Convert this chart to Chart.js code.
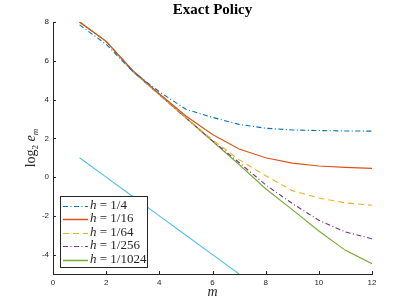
<!DOCTYPE html>
<html>
<head>
<meta charset="utf-8">
<script src="https://cdn.jsdelivr.net/npm/chart.js@4"></script>
<style>
  html, body { margin: 0; padding: 0; background: #fff; }
  #wrap { width: 411px; height: 308px; }
</style>
</head>
<body>
<div id="wrap"><canvas id="policyChart"></canvas></div>
<script>
// values
let mValues = [1, 2, 3, 4, 5, 6, 7, 8, 9, 10, 11, 12]
let err4 = [7.85, 6.85, 5.45, 4.4, 3.5, 3.08, 2.72, 2.52, 2.43, 2.4, 2.38, 2.37]
let err16 = [8.0, 7.0, 5.5, 4.3, 3.15, 2.2, 1.45, 1.0, 0.72, 0.57, 0.5, 0.45]
let err64 = [8.0, 7.0, 5.45, 4.27, 3.08, 1.92, 0.9, 0.07, -0.7, -1.08, -1.33, -1.45]
let err256 = [8.0, 7.0, 5.45, 4.25, 3.05, 1.87, 0.75, -0.4, -1.36, -2.23, -2.83, -3.18]
let err1024 = [8.0, 7.0, 5.45, 4.25, 3.05, 1.85, 0.65, -0.6, -1.68, -2.78, -3.78, -4.47]
let refM = [1, 2, 3, 4, 5, 6, 7]
let refLine = [1, 0, -1, -2, -3, -4, -5]

let seriesNames = ['1/4', '1/16', '1/64', '1/256', '1/1024']
let xTicks = [0, 2, 4, 6, 8, 10, 12]
let yTicks = [-4, -2, 0, 2, 4, 6, 8]

function pts(xs, ys) {
  return xs.map((x, i) => ({ x: x, y: ys[i] }))
}

let dashDot = [5, 2.5, 1, 2.5]

let datasets = [
  { label: seriesNames[0], data: pts(mValues, err4), borderColor: '#0072BD', borderDash: dashDot },
  { label: seriesNames[1], data: pts(mValues, err16), borderColor: '#D95319', borderDash: [] },
  { label: seriesNames[2], data: pts(mValues, err64), borderColor: '#EDB120', borderDash: [6, 4] },
  { label: seriesNames[3], data: pts(mValues, err256), borderColor: '#7E2F8E', borderDash: dashDot },
  { label: seriesNames[4], data: pts(mValues, err1024), borderColor: '#77AC30', borderDash: [] },
  { label: 'ref', data: pts(refM, refLine), borderColor: '#4DBEEE', borderDash: [] }
]
datasets.forEach(d => {
  d.borderWidth = 1.1
  d.pointRadius = 0
  d.fill = false
  d.tension = 0
})

let serif = '"Liberation Serif", "DejaVu Serif", serif'

// inward ticks, axis labels, title and legend box
let decor = {
  id: 'decor',
  afterDraw(chart) {
    let ctx = chart.ctx
    let a = chart.chartArea
    let xs = chart.scales.x
    let ys = chart.scales.y
    ctx.save()
    ctx.strokeStyle = '#262626'
    ctx.lineWidth = 1
    ctx.beginPath()
    xTicks.forEach(t => {
      let px = Math.round(xs.getPixelForValue(t)) + 0.5
      ctx.moveTo(px, a.bottom)
      ctx.lineTo(px, a.bottom - 3)
    })
    yTicks.forEach(t => {
      let py = Math.round(ys.getPixelForValue(t)) + 0.5
      ctx.moveTo(a.left, py)
      ctx.lineTo(a.left + 3, py)
    })
    ctx.stroke()

    // title
    ctx.fillStyle = '#000'
    ctx.textAlign = 'center'
    ctx.textBaseline = 'middle'
    ctx.font = 'bold 15px ' + serif
    ctx.fillText('Exact Policy', (a.left + a.right) / 2, 10)

    // x label
    ctx.font = 'italic 14px ' + serif
    ctx.fillStyle = '#262626'
    ctx.fillText('m', (a.left + a.right) / 2, 292)

    // y label: log2 e_m
    ctx.save()
    ctx.translate(31, (a.top + a.bottom) / 2)
    ctx.rotate(-Math.PI / 2)
    ctx.textAlign = 'left'
    ctx.textBaseline = 'alphabetic'
    let parts = [
      { t: 'log', f: '14px ' + serif, dy: 0 },
      { t: '2', f: '9px ' + serif, dy: 3 },
      { t: ' ', f: '14px ' + serif, dy: 0 },
      { t: 'e', f: 'italic 14px ' + serif, dy: 0 },
      { t: 'm', f: 'italic 9px ' + serif, dy: 3 }
    ]
    let total = 0
    parts.forEach(p => { ctx.font = p.f; total += ctx.measureText(p.t).width })
    let cx = -total / 2
    parts.forEach(p => {
      ctx.font = p.f
      ctx.fillText(p.t, cx, 4 + p.dy)
      cx += ctx.measureText(p.t).width
    })
    ctx.restore()

    // legend
    let lx = 60, ly = 196, lw = 87, lh = 71
    ctx.fillStyle = '#fff'
    ctx.fillRect(lx, ly, lw, lh)
    ctx.strokeStyle = '#262626'
    ctx.lineWidth = 1
    ctx.strokeRect(lx + 0.5, ly + 0.5, lw, lh)
    for (let i = 0; i < seriesNames.length; i++) {
      let d = datasets[i]
      let ry = ly + 9.5 + i * 13.5
      ctx.strokeStyle = d.borderColor
      ctx.setLineDash(d.borderDash)
      ctx.lineWidth = i == 1 || i == 4 ? 1.5 : 1
      ctx.beginPath()
      ctx.moveTo(lx + 3, Math.round(ry) + 0.5)
      ctx.lineTo(lx + 28, Math.round(ry) + 0.5)
      ctx.stroke()
      ctx.setLineDash([])
      ctx.fillStyle = '#262626'
      ctx.textAlign = 'left'
      ctx.textBaseline = 'middle'
      ctx.font = 'italic 13px ' + serif
      ctx.fillText('h', lx + 30, ry)
      let w = ctx.measureText('h').width
      ctx.font = '13px ' + serif
      ctx.fillText(' = ' + seriesNames[i], lx + 30 + w, ry)
    }
    ctx.restore()
  }
}

let ctx = document.getElementById('policyChart').getContext('2d')

let policyChart = new Chart(ctx, {
  type: 'line',
  data: { datasets: datasets },
  options: {
    responsive: true,
    maintainAspectRatio: false,
    animation: false,
    layout: { padding: { left: 33, right: 39, top: 22, bottom: 18 } },
    plugins: {
      legend: { display: false },
      tooltip: { enabled: false }
    },
    scales: {
      x: {
        type: 'linear',
        min: 0,
        max: 12,
        afterBuildTicks: s => { s.ticks = xTicks.map(v => ({ value: v })) },
        afterFit: s => { s.height = 16 },
        grid: { display: false, drawTicks: false },
        border: { display: true, color: '#262626', width: 1 },
        ticks: {
          color: '#262626',
          padding: 4,
          font: { family: '"Liberation Sans", Arial, sans-serif', size: 8 }
        }
      },
      y: {
        type: 'linear',
        min: -5,
        max: 8,
        afterBuildTicks: s => { s.ticks = yTicks.map(v => ({ value: v })) },
        afterFit: s => { s.width = 20 },
        grid: { display: false, drawTicks: false },
        border: { display: true, color: '#262626', width: 1 },
        ticks: {
          color: '#262626',
          padding: 4,
          font: { family: '"Liberation Sans", Arial, sans-serif', size: 8 }
        }
      }
    }
  },
  plugins: [decor]
})
</script>
</body>
</html>
